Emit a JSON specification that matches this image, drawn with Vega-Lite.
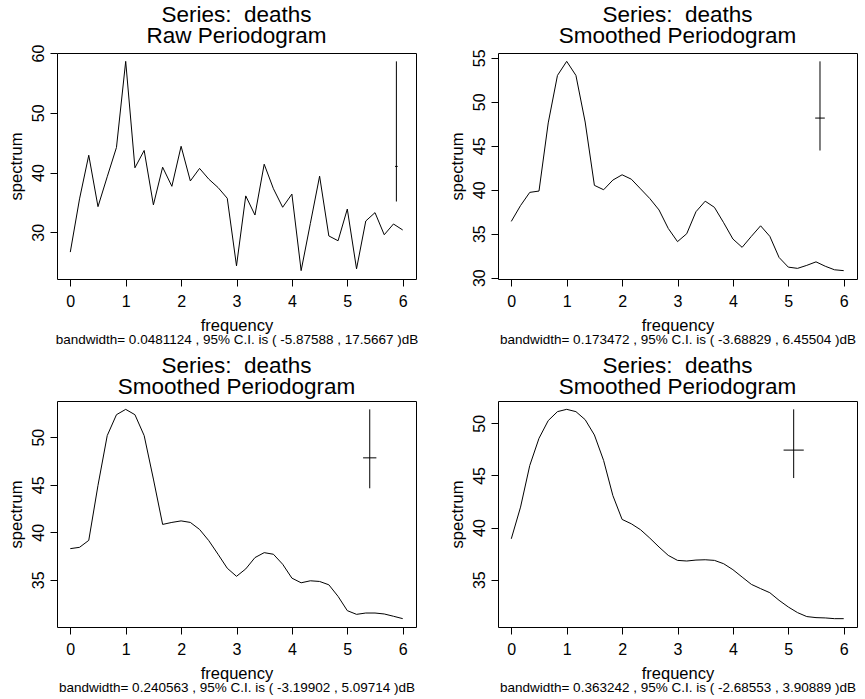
{
  "$schema": "https://vega.github.io/schema/vega-lite/v6.json",
  "padding": {"left": 8, "top": 3, "right": 8, "bottom": 3},
  "background": "white",
  "bounds": "flush",
  "columns": 2,
  "spacing": {"row": 122, "column": 82},
  "datasets": {
    "spec": [
      {"freq": 0, "raw": 26.7, "s1": 36.4, "s2": 38.28, "s3": 38.92},
      {"freq": 0.1667, "raw": 35.6, "s1": 38.2, "s2": 38.42, "s3": 41.96},
      {"freq": 0.3333, "raw": 42.9, "s1": 39.7, "s2": 39.15, "s3": 45.95},
      {"freq": 0.5, "raw": 34.3, "s1": 39.85, "s2": 44.94, "s3": 48.56},
      {"freq": 0.6667, "raw": 39.3, "s1": 47.6, "s2": 50.17, "s3": 50.26},
      {"freq": 0.8333, "raw": 44.2, "s1": 53.0, "s2": 52.37, "s3": 51.12},
      {"freq": 1, "raw": 58.6, "s1": 54.6, "s2": 52.93, "s3": 51.34},
      {"freq": 1.1667, "raw": 40.8, "s1": 53.0, "s2": 52.37, "s3": 51.12},
      {"freq": 1.3333, "raw": 43.7, "s1": 47.7, "s2": 50.17, "s3": 50.35},
      {"freq": 1.5, "raw": 34.6, "s1": 40.5, "s2": 45.6, "s3": 48.88},
      {"freq": 1.6667, "raw": 40.9, "s1": 40.0, "s2": 40.83, "s3": 46.43},
      {"freq": 1.8333, "raw": 37.7, "s1": 41.1, "s2": 41.04, "s3": 43.07},
      {"freq": 2, "raw": 44.4, "s1": 41.7, "s2": 41.2, "s3": 40.78},
      {"freq": 2.1667, "raw": 38.6, "s1": 41.2, "s2": 41.04, "s3": 40.36},
      {"freq": 2.3333, "raw": 40.7, "s1": 40.1, "s2": 40.3, "s3": 39.79},
      {"freq": 2.5, "raw": 38.9, "s1": 39.0, "s2": 39.12, "s3": 38.99},
      {"freq": 2.6667, "raw": 37.5, "s1": 37.7, "s2": 37.69, "s3": 38.13},
      {"freq": 2.8333, "raw": 35.7, "s1": 35.6, "s2": 36.22, "s3": 37.33},
      {"freq": 3, "raw": 24.4, "s1": 34.1, "s2": 35.37, "s3": 36.85},
      {"freq": 3.1667, "raw": 36.1, "s1": 35.0, "s2": 36.15, "s3": 36.79},
      {"freq": 3.3333, "raw": 32.9, "s1": 37.5, "s2": 37.34, "s3": 36.88},
      {"freq": 3.5, "raw": 41.4, "s1": 38.7, "s2": 37.86, "s3": 36.91},
      {"freq": 3.6667, "raw": 37.3, "s1": 38.0, "s2": 37.69, "s3": 36.85},
      {"freq": 3.8333, "raw": 34.2, "s1": 36.25, "s2": 36.64, "s3": 36.53},
      {"freq": 4, "raw": 36.4, "s1": 34.4, "s2": 35.18, "s3": 35.96},
      {"freq": 4.1667, "raw": 23.6, "s1": 33.45, "s2": 34.69, "s3": 35.25},
      {"freq": 4.3333, "raw": 31.5, "s1": 34.7, "s2": 34.9, "s3": 34.55},
      {"freq": 4.5, "raw": 39.4, "s1": 35.9, "s2": 34.83, "s3": 34.14},
      {"freq": 4.6667, "raw": 29.4, "s1": 34.7, "s2": 34.48, "s3": 33.75},
      {"freq": 4.8333, "raw": 28.6, "s1": 32.3, "s2": 33.26, "s3": 33.02},
      {"freq": 5, "raw": 33.9, "s1": 31.2, "s2": 31.76, "s3": 32.38},
      {"freq": 5.1667, "raw": 23.9, "s1": 31.06, "s2": 31.37, "s3": 31.84},
      {"freq": 5.3333, "raw": 31.9, "s1": 31.4, "s2": 31.51, "s3": 31.46},
      {"freq": 5.5, "raw": 33.3, "s1": 31.8, "s2": 31.51, "s3": 31.36},
      {"freq": 5.6667, "raw": 29.6, "s1": 31.3, "s2": 31.41, "s3": 31.33},
      {"freq": 5.8333, "raw": 31.4, "s1": 30.9, "s2": 31.17, "s3": 31.26},
      {"freq": 6, "raw": 30.4, "s1": 30.8, "s2": 30.92, "s3": 31.26}
    ],
    "ci": [
      {"panel": 1, "x": 5.886, "xl": 5.862, "xr": 5.910, "lo": 35.16, "mid": 41.03, "hi": 58.6},
      {"panel": 2, "x": 5.572, "xl": 5.485, "xr": 5.659, "lo": 44.46, "mid": 48.15, "hi": 54.6},
      {"panel": 3, "x": 5.405, "xl": 5.285, "xr": 5.525, "lo": 44.63, "mid": 47.83, "hi": 52.93},
      {"panel": 4, "x": 5.097, "xl": 4.915, "xr": 5.279, "lo": 44.75, "mid": 47.43, "hi": 51.34}
    ]
  },
  "concat": [
    {
      "width": 359, "height": 226,
      "title": {"text": ["Series:\u00a0 deaths", "Raw Periodogram"], "offset": -3.4},
      "resolve": {"axis": {"x": "independent"}},
      "layer": [
        {"data": {"name": "spec"}, "mark": {"type": "line", "color": "black", "strokeWidth": 1},
         "encoding": {
           "x": {"field": "freq", "type": "quantitative", "scale": {"domain": [-0.24, 6.24], "nice": false, "zero": false}, "axis": {"orient": "bottom", "values": [0, 1, 2, 3, 4, 5, 6], "title": "frequency"}},
           "y": {"field": "raw", "type": "quantitative", "scale": {"domain": [22.2, 60], "nice": false, "zero": false}, "axis": {"values": [30, 40, 50, 60], "title": "spectrum"}}}},
        {"data": {"name": "ci"}, "transform": [{"filter": "datum.panel == 1"}], "mark": {"type": "rule", "color": "black", "strokeWidth": 1},
         "encoding": {
           "x": {"field": "x", "type": "quantitative", "scale": {"domain": [-0.24, 6.24], "nice": false, "zero": false}, "axis": {"orient": "bottom", "title": "bandwidth= 0.0481124 , 95% C.I. is ( -5.87588 , 17.5667 )dB", "labels": false, "ticks": false, "domain": false, "titleFontSize": 13.5, "titlePadding": 53, "minExtent": 0}},
           "y": {"field": "lo", "type": "quantitative", "scale": {"domain": [22.2, 60], "nice": false, "zero": false}, "axis": {"values": [30, 40, 50, 60], "title": "spectrum"}},
           "y2": {"field": "hi"}}},
        {"data": {"name": "ci"}, "transform": [{"filter": "datum.panel == 1"}], "mark": {"type": "rule", "color": "black", "strokeWidth": 1},
         "encoding": {
           "x": {"field": "xl", "type": "quantitative", "scale": {"domain": [-0.24, 6.24], "nice": false, "zero": false}, "axis": null},
           "x2": {"field": "xr"},
           "y": {"field": "mid", "type": "quantitative", "scale": {"domain": [22.2, 60], "nice": false, "zero": false}, "axis": {"values": [30, 40, 50, 60], "title": "spectrum"}}}}
      ]
    },
    {
      "width": 359, "height": 226,
      "title": {"text": ["Series:\u00a0 deaths", "Smoothed Periodogram"], "offset": 1.4},
      "resolve": {"axis": {"x": "independent"}},
      "layer": [
        {"data": {"name": "spec"}, "mark": {"type": "line", "color": "black", "strokeWidth": 1},
         "encoding": {
           "x": {"field": "freq", "type": "quantitative", "scale": {"domain": [-0.24, 6.24], "nice": false, "zero": false}, "axis": {"orient": "bottom", "values": [0, 1, 2, 3, 4, 5, 6], "title": "frequency"}},
           "y": {"field": "s1", "type": "quantitative", "scale": {"domain": [29.85, 55.55], "nice": false, "zero": false}, "axis": {"values": [30, 35, 40, 45, 50, 55], "title": "spectrum"}}}},
        {"data": {"name": "ci"}, "transform": [{"filter": "datum.panel == 2"}], "mark": {"type": "rule", "color": "black", "strokeWidth": 1},
         "encoding": {
           "x": {"field": "x", "type": "quantitative", "scale": {"domain": [-0.24, 6.24], "nice": false, "zero": false}, "axis": {"orient": "bottom", "title": "bandwidth= 0.173472 , 95% C.I. is ( -3.68829 , 6.45504 )dB", "labels": false, "ticks": false, "domain": false, "titleFontSize": 13.5, "titlePadding": 53, "minExtent": 0}},
           "y": {"field": "lo", "type": "quantitative", "scale": {"domain": [29.85, 55.55], "nice": false, "zero": false}, "axis": {"values": [30, 35, 40, 45, 50, 55], "title": "spectrum"}},
           "y2": {"field": "hi"}}},
        {"data": {"name": "ci"}, "transform": [{"filter": "datum.panel == 2"}], "mark": {"type": "rule", "color": "black", "strokeWidth": 1},
         "encoding": {
           "x": {"field": "xl", "type": "quantitative", "scale": {"domain": [-0.24, 6.24], "nice": false, "zero": false}, "axis": null},
           "x2": {"field": "xr"},
           "y": {"field": "mid", "type": "quantitative", "scale": {"domain": [29.85, 55.55], "nice": false, "zero": false}, "axis": {"values": [30, 35, 40, 45, 50, 55], "title": "spectrum"}}}}
      ]
    },
    {
      "width": 359, "height": 226,
      "title": {"text": ["Series:\u00a0 deaths", "Smoothed Periodogram"], "offset": 3},
      "resolve": {"axis": {"x": "independent"}},
      "layer": [
        {"data": {"name": "spec"}, "mark": {"type": "line", "color": "black", "strokeWidth": 1},
         "encoding": {
           "x": {"field": "freq", "type": "quantitative", "scale": {"domain": [-0.24, 6.24], "nice": false, "zero": false}, "axis": {"orient": "bottom", "values": [0, 1, 2, 3, 4, 5, 6], "title": "frequency"}},
           "y": {"field": "s2", "type": "quantitative", "scale": {"domain": [30.04, 53.81], "nice": false, "zero": false}, "axis": {"values": [35, 40, 45, 50], "title": "spectrum"}}}},
        {"data": {"name": "ci"}, "transform": [{"filter": "datum.panel == 3"}], "mark": {"type": "rule", "color": "black", "strokeWidth": 1},
         "encoding": {
           "x": {"field": "x", "type": "quantitative", "scale": {"domain": [-0.24, 6.24], "nice": false, "zero": false}, "axis": {"orient": "bottom", "title": "bandwidth= 0.240563 , 95% C.I. is ( -3.19902 , 5.09714 )dB", "labels": false, "ticks": false, "domain": false, "titleFontSize": 13.5, "titlePadding": 53, "minExtent": 0}},
           "y": {"field": "lo", "type": "quantitative", "scale": {"domain": [30.04, 53.81], "nice": false, "zero": false}, "axis": {"values": [35, 40, 45, 50], "title": "spectrum"}},
           "y2": {"field": "hi"}}},
        {"data": {"name": "ci"}, "transform": [{"filter": "datum.panel == 3"}], "mark": {"type": "rule", "color": "black", "strokeWidth": 1},
         "encoding": {
           "x": {"field": "xl", "type": "quantitative", "scale": {"domain": [-0.24, 6.24], "nice": false, "zero": false}, "axis": null},
           "x2": {"field": "xr"},
           "y": {"field": "mid", "type": "quantitative", "scale": {"domain": [30.04, 53.81], "nice": false, "zero": false}, "axis": {"values": [35, 40, 45, 50], "title": "spectrum"}}}}
      ]
    },
    {
      "width": 359, "height": 226,
      "title": {"text": ["Series:\u00a0 deaths", "Smoothed Periodogram"], "offset": 3},
      "resolve": {"axis": {"x": "independent"}},
      "layer": [
        {"data": {"name": "spec"}, "mark": {"type": "line", "color": "black", "strokeWidth": 1},
         "encoding": {
           "x": {"field": "freq", "type": "quantitative", "scale": {"domain": [-0.24, 6.24], "nice": false, "zero": false}, "axis": {"orient": "bottom", "values": [0, 1, 2, 3, 4, 5, 6], "title": "frequency"}},
           "y": {"field": "s3", "type": "quantitative", "scale": {"domain": [30.46, 52.14], "nice": false, "zero": false}, "axis": {"values": [35, 40, 45, 50], "title": "spectrum"}}}},
        {"data": {"name": "ci"}, "transform": [{"filter": "datum.panel == 4"}], "mark": {"type": "rule", "color": "black", "strokeWidth": 1},
         "encoding": {
           "x": {"field": "x", "type": "quantitative", "scale": {"domain": [-0.24, 6.24], "nice": false, "zero": false}, "axis": {"orient": "bottom", "title": "bandwidth= 0.363242 , 95% C.I. is ( -2.68553 , 3.90889 )dB", "labels": false, "ticks": false, "domain": false, "titleFontSize": 13.5, "titlePadding": 53, "minExtent": 0}},
           "y": {"field": "lo", "type": "quantitative", "scale": {"domain": [30.46, 52.14], "nice": false, "zero": false}, "axis": {"values": [35, 40, 45, 50], "title": "spectrum"}},
           "y2": {"field": "hi"}}},
        {"data": {"name": "ci"}, "transform": [{"filter": "datum.panel == 4"}], "mark": {"type": "rule", "color": "black", "strokeWidth": 1},
         "encoding": {
           "x": {"field": "xl", "type": "quantitative", "scale": {"domain": [-0.24, 6.24], "nice": false, "zero": false}, "axis": null},
           "x2": {"field": "xr"},
           "y": {"field": "mid", "type": "quantitative", "scale": {"domain": [30.46, 52.14], "nice": false, "zero": false}, "axis": {"values": [35, 40, 45, 50], "title": "spectrum"}}}}
      ]
    }
  ],
  "config": {
    "font": "Liberation Sans",
    "view": {"stroke": "black", "strokeWidth": 1},
    "axis": {
      "grid": false, "domain": false,
      "tickColor": "black", "tickSize": 7, "tickWidth": 1,
      "labelColor": "black", "labelFontSize": 16, "labelFont": "Liberation Sans",
      "titleColor": "black", "titleFontSize": 16.5, "titleFontWeight": "normal", "titleFont": "Liberation Sans"
    },
    "axisX": {"labelPadding": 7.4, "titlePadding": 8},
    "axisY": {"labelAngle": 270, "labelAlign": "center", "labelBaseline": "alphabetic", "labelPadding": 6.4, "titlePadding": 6},
    "title": {"fontSize": 22.5, "fontWeight": "normal", "color": "black", "font": "Liberation Sans", "lineHeight": 21, "frame": "group", "anchor": "middle"}
  }
}
